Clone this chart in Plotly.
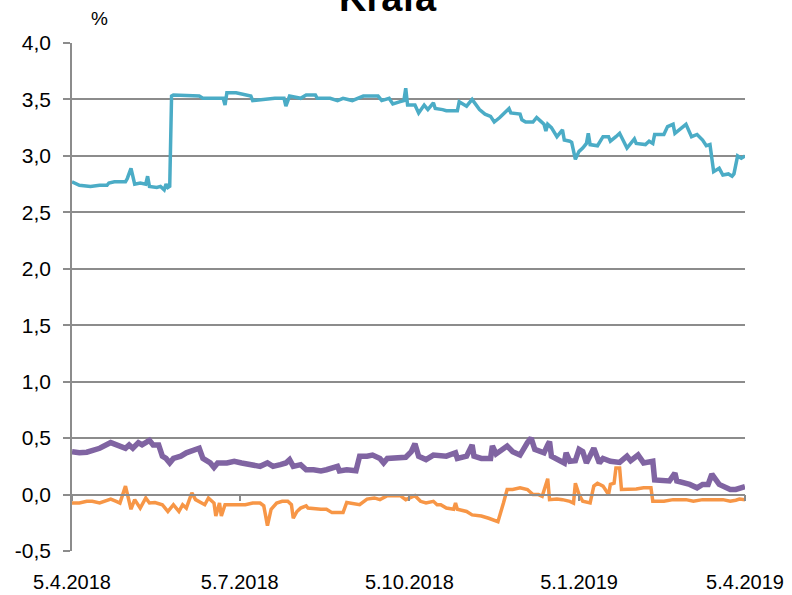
import plotly.graph_objects as go

title_text = "Krafa"
unit_label = "%"
tick_dates = ["2018-04-05", "2018-07-05", "2018-10-05", "2019-01-05", "2019-04-05"]
tick_labels = ["5.4.2018", "5.7.2018", "5.10.2018", "5.1.2019", "5.4.2019"]
y_ticks = [-0.5, 0.0, 0.5, 1.0, 1.5, 2.0, 2.5, 3.0, 3.5, 4.0]
y_tick_labels = ["-0,5", "0,0", "0,5", "1,0", "1,5", "2,0", "2,5", "3,0", "3,5", "4,0"]

teal_dates = [
    "2018-04-05", "2018-04-09", "2018-04-15", "2018-04-20", "2018-04-24", "2018-04-25", "2018-04-28",
    "2018-05-04", "2018-05-05", "2018-05-07", "2018-05-09", "2018-05-12", "2018-05-15", "2018-05-16",
    "2018-05-17", "2018-05-21", "2018-05-23", "2018-05-25", "2018-05-26", "2018-05-27", "2018-05-28",
    "2018-05-29", "2018-05-30", "2018-06-13", "2018-06-15", "2018-06-26", "2018-06-27", "2018-06-28",
    "2018-07-03", "2018-07-08", "2018-07-11", "2018-07-12", "2018-07-18", "2018-07-24", "2018-07-29",
    "2018-07-30", "2018-08-01", "2018-08-07", "2018-08-10", "2018-08-15", "2018-08-16", "2018-08-23",
    "2018-08-27", "2018-08-30", "2018-09-04", "2018-09-10", "2018-09-18", "2018-09-20", "2018-09-24",
    "2018-09-26", "2018-09-30", "2018-10-02", "2018-10-03", "2018-10-04", "2018-10-08", "2018-10-10",
    "2018-10-13", "2018-10-15", "2018-10-18", "2018-10-19", "2018-10-23", "2018-10-25", "2018-10-31",
    "2018-11-01", "2018-11-05", "2018-11-08", "2018-11-12", "2018-11-15", "2018-11-18", "2018-11-20",
    "2018-11-23", "2018-11-28", "2018-11-29", "2018-12-04", "2018-12-05", "2018-12-07", "2018-12-11",
    "2018-12-13", "2018-12-15", "2018-12-17", "2018-12-18", "2018-12-19", "2018-12-21", "2018-12-24",
    "2018-12-27", "2018-12-28", "2018-12-31", "2019-01-01", "2019-01-03", "2019-01-05", "2019-01-07",
    "2019-01-09", "2019-01-10", "2019-01-11", "2019-01-15", "2019-01-18", "2019-01-21", "2019-01-22",
    "2019-01-25", "2019-01-27", "2019-01-31", "2019-02-04", "2019-02-05", "2019-02-10", "2019-02-12",
    "2019-02-14", "2019-02-15", "2019-02-20", "2019-02-22", "2019-02-25", "2019-02-26", "2019-03-04",
    "2019-03-07", "2019-03-10", "2019-03-13", "2019-03-15", "2019-03-17", "2019-03-19", "2019-03-22",
    "2019-03-24", "2019-03-27", "2019-03-29", "2019-03-30", "2019-04-01", "2019-04-03", "2019-04-05",
]
teal_values = [
    2.77, 2.74, 2.73, 2.74, 2.74, 2.76, 2.77,
    2.77, 2.80, 2.89, 2.75, 2.76, 2.75, 2.82,
    2.73, 2.72, 2.73, 2.70, 2.75, 2.72, 2.73,
    3.53, 3.54, 3.53, 3.51, 3.51, 3.45, 3.56,
    3.56, 3.54, 3.53, 3.49, 3.50, 3.51, 3.51,
    3.44, 3.53, 3.51, 3.54, 3.54, 3.51, 3.51,
    3.49, 3.51, 3.49, 3.53, 3.53, 3.49, 3.51,
    3.46, 3.48, 3.49, 3.60, 3.45, 3.45, 3.38,
    3.45, 3.41, 3.47, 3.42, 3.41, 3.40, 3.40,
    3.48, 3.44, 3.50, 3.41, 3.37, 3.35, 3.30,
    3.34, 3.42, 3.38, 3.37, 3.32, 3.30, 3.30,
    3.34, 3.31, 3.28, 3.22, 3.28, 3.25, 3.17,
    3.23, 3.14, 3.13, 3.12, 2.97, 3.04, 3.07,
    3.11, 3.20, 3.10, 3.09, 3.17, 3.17, 3.13,
    3.17, 3.20, 3.07, 3.15, 3.11, 3.10, 3.13,
    3.11, 3.19, 3.19, 3.26, 3.28, 3.20, 3.28,
    3.17, 3.19, 3.14, 3.09, 3.10, 2.86, 2.89,
    2.83, 2.84, 2.82, 2.84, 3.00, 2.98, 3.00,
]

purple_dates = [
    "2018-04-05", "2018-04-09", "2018-04-13", "2018-04-16", "2018-04-20", "2018-04-26", "2018-04-30",
    "2018-05-04", "2018-05-06", "2018-05-08", "2018-05-11", "2018-05-13", "2018-05-17", "2018-05-19",
    "2018-05-22", "2018-05-24", "2018-05-26", "2018-05-28", "2018-05-30", "2018-06-03", "2018-06-06",
    "2018-06-10", "2018-06-13", "2018-06-15", "2018-06-19", "2018-06-21", "2018-06-23", "2018-06-28",
    "2018-07-02", "2018-07-06", "2018-07-12", "2018-07-16", "2018-07-20", "2018-07-23", "2018-07-27",
    "2018-07-30", "2018-08-01", "2018-08-03", "2018-08-07", "2018-08-10", "2018-08-14", "2018-08-18",
    "2018-08-21", "2018-08-27", "2018-08-28", "2018-09-01", "2018-09-06", "2018-09-08", "2018-09-12",
    "2018-09-15", "2018-09-19", "2018-09-21", "2018-09-23", "2018-09-30", "2018-10-03", "2018-10-06",
    "2018-10-08", "2018-10-10", "2018-10-14", "2018-10-18", "2018-10-25", "2018-10-30", "2018-10-31",
    "2018-11-05", "2018-11-08", "2018-11-09", "2018-11-13", "2018-11-18", "2018-11-19", "2018-11-21",
    "2018-11-23", "2018-11-27", "2018-11-30", "2018-12-04", "2018-12-08", "2018-12-10", "2018-12-12",
    "2018-12-15", "2018-12-17", "2018-12-19", "2018-12-20", "2018-12-21", "2018-12-24", "2018-12-28",
    "2018-12-29", "2018-12-31", "2019-01-03", "2019-01-05", "2019-01-07", "2019-01-09", "2019-01-13",
    "2019-01-16", "2019-01-18", "2019-01-22", "2019-01-27", "2019-01-31", "2019-02-02", "2019-02-06",
    "2019-02-09", "2019-02-12", "2019-02-14", "2019-02-15", "2019-02-20", "2019-02-23", "2019-02-26",
    "2019-02-27", "2019-03-06", "2019-03-10", "2019-03-13", "2019-03-16", "2019-03-18", "2019-03-20",
    "2019-03-22", "2019-03-28", "2019-03-31", "2019-04-05",
]
purple_values = [
    0.38, 0.37, 0.375, 0.39, 0.41, 0.46, 0.44,
    0.41, 0.44, 0.41, 0.46, 0.44, 0.48, 0.44,
    0.44, 0.34, 0.32, 0.28, 0.32, 0.34, 0.37,
    0.40, 0.41, 0.32, 0.28, 0.24, 0.28, 0.28,
    0.295, 0.28, 0.265, 0.25, 0.28, 0.25, 0.265,
    0.28, 0.31, 0.25, 0.265, 0.22, 0.22, 0.21,
    0.22, 0.25, 0.21, 0.22, 0.21, 0.34, 0.34,
    0.35, 0.32, 0.28, 0.32, 0.32, 0.33, 0.38,
    0.45, 0.34, 0.31, 0.35, 0.34, 0.37, 0.32,
    0.34, 0.44, 0.34, 0.32, 0.32, 0.43, 0.36,
    0.38, 0.43, 0.38, 0.35, 0.46, 0.50, 0.40,
    0.38, 0.37, 0.44, 0.47, 0.34, 0.31, 0.28,
    0.37, 0.295, 0.30, 0.40, 0.38, 0.28, 0.41,
    0.28, 0.32, 0.295, 0.285, 0.34, 0.30, 0.35,
    0.28, 0.295, 0.295, 0.13, 0.13, 0.12, 0.19,
    0.12, 0.09, 0.06, 0.09, 0.09, 0.18, 0.13,
    0.09, 0.045, 0.045, 0.07,
]

orange_dates = [
    "2018-04-05", "2018-04-09", "2018-04-13", "2018-04-16", "2018-04-20", "2018-04-26", "2018-04-29",
    "2018-05-01", "2018-05-04", "2018-05-06", "2018-05-07", "2018-05-09", "2018-05-12", "2018-05-15",
    "2018-05-17", "2018-05-20", "2018-05-24", "2018-05-27", "2018-05-30", "2018-06-02", "2018-06-04",
    "2018-06-06", "2018-06-09", "2018-06-11", "2018-06-13", "2018-06-16", "2018-06-18", "2018-06-21",
    "2018-06-22", "2018-06-24", "2018-06-25", "2018-06-27", "2018-07-02", "2018-07-08", "2018-07-12",
    "2018-07-16", "2018-07-18", "2018-07-20", "2018-07-22", "2018-07-25", "2018-07-28", "2018-07-31",
    "2018-08-02", "2018-08-03", "2018-08-05", "2018-08-07", "2018-08-10", "2018-08-11", "2018-08-18",
    "2018-08-21", "2018-08-24", "2018-08-30", "2018-09-01", "2018-09-08", "2018-09-12", "2018-09-16",
    "2018-09-19", "2018-09-23", "2018-09-26", "2018-09-30", "2018-10-03", "2018-10-08", "2018-10-11",
    "2018-10-14", "2018-10-18", "2018-10-20", "2018-10-22", "2018-10-25", "2018-10-29", "2018-10-30",
    "2018-10-31", "2018-11-05", "2018-11-08", "2018-11-13", "2018-11-17", "2018-11-22", "2018-11-25",
    "2018-11-27", "2018-11-30", "2018-12-04", "2018-12-08", "2018-12-11", "2018-12-14", "2018-12-16",
    "2018-12-19", "2018-12-20", "2018-12-24", "2018-12-27", "2018-12-31", "2019-01-02", "2019-01-03",
    "2019-01-05", "2019-01-07", "2019-01-11", "2019-01-13", "2019-01-15", "2019-01-18", "2019-01-21",
    "2019-01-22", "2019-01-24", "2019-01-25", "2019-01-27", "2019-01-28", "2019-02-02", "2019-02-05",
    "2019-02-09", "2019-02-13", "2019-02-14", "2019-02-20", "2019-02-25", "2019-03-04", "2019-03-08",
    "2019-03-13", "2019-03-24", "2019-03-28", "2019-03-31", "2019-04-02", "2019-04-05",
]
orange_values = [
    -0.075, -0.075, -0.06, -0.06, -0.075, -0.04, -0.06,
    -0.075, 0.075, -0.06, -0.13, -0.045, -0.12, -0.03,
    -0.075, -0.07, -0.09, -0.15, -0.09, -0.15, -0.09,
    -0.12, 0.015, -0.045, -0.06, -0.09, -0.03, -0.075,
    -0.19, -0.075, -0.19, -0.09, -0.09, -0.09, -0.075,
    -0.075, -0.10, -0.275, -0.13, -0.075, -0.06, -0.06,
    -0.09, -0.21, -0.15, -0.12, -0.10, -0.12, -0.13,
    -0.13, -0.16, -0.16, -0.07, -0.09, -0.04, -0.03,
    -0.045, -0.01, -0.01, -0.01, -0.045, -0.01, -0.06,
    -0.075, -0.06, -0.09, -0.09, -0.12, -0.13, -0.075,
    -0.13, -0.15, -0.18, -0.19, -0.21, -0.24, -0.075,
    0.045, 0.045, 0.06, 0.045, 0.0, 0.0, -0.015,
    0.14, -0.045, -0.04, -0.045, -0.06, -0.075, 0.10,
    0.0, -0.06, -0.075, 0.075, 0.10, 0.075, 0.0,
    0.09, 0.10, 0.235, 0.235, 0.045, 0.045, 0.05,
    0.06, 0.06, -0.06, -0.06, -0.045, -0.045, -0.06,
    -0.045, -0.045, -0.06, -0.05, -0.04, -0.045,
]

TEAL = "#4bacc6"
PURPLE = "#8064a2"
ORANGE = "#f79646"
GRID = "#8c8c8c"
FONT = "Liberation Sans, Arial, sans-serif"

fig = go.Figure()
fig.add_trace(go.Scatter(x=purple_dates, y=purple_values, mode="lines",
                         line=dict(color=PURPLE, width=5.5), showlegend=False))
fig.add_trace(go.Scatter(x=orange_dates, y=orange_values, mode="lines",
                         line=dict(color=ORANGE, width=3.5), showlegend=False))
fig.add_trace(go.Scatter(x=teal_dates, y=teal_values, mode="lines",
                         line=dict(color=TEAL, width=3.5), showlegend=False))
# invisible trace on overlay axis (tick marks on the zero line)
fig.add_trace(go.Scatter(x=[tick_dates[0], tick_dates[-1]], y=[0, 0], mode="lines",
                         line=dict(width=0), xaxis="x2", hoverinfo="skip", showlegend=False))

fig.update_layout(
    width=792, height=595,
    margin=dict(l=72, r=47, t=43, b=44, autoexpand=False),
    paper_bgcolor="white", plot_bgcolor="white",
    font=dict(family=FONT, size=20, color="black"),
    xaxis=dict(type="date", range=[tick_dates[0], tick_dates[-1]],
               tickvals=tick_dates, ticktext=tick_labels, automargin=False,
               showgrid=False, zeroline=False, showline=False,
               ticks="outside", ticklen=8, tickcolor="rgba(0,0,0,0)",
               ticklabelstandoff=5,
               tickfont=dict(family=FONT, size=20, color="black")),
    xaxis2=dict(type="date", range=[tick_dates[0], tick_dates[-1]], overlaying="x",
                anchor="free", position=(0 - y_ticks[0]) / (y_ticks[-1] - y_ticks[0]),
                tickvals=tick_dates, showticklabels=False, showgrid=False, zeroline=False,
                automargin=False,
                showline=True, linecolor=GRID, linewidth=1.5,
                ticks="outside", ticklen=6, tickwidth=1.5, tickcolor=GRID),
    yaxis=dict(range=[y_ticks[0], y_ticks[-1]], tickvals=y_ticks, ticktext=y_tick_labels,
               automargin=False,
               showgrid=True, gridcolor=GRID, gridwidth=1.5, zeroline=False,
               showline=True, linecolor=GRID, linewidth=1.5,
               ticks="outside", ticklen=7, tickwidth=1.5, tickcolor=GRID,
               ticklabelstandoff=8,
               tickfont=dict(family=FONT, size=21, color="black")),
    annotations=[
        dict(text=unit_label, xref="paper", yref="paper", x=0.0416, y=1.049,
             showarrow=False, xanchor="center", yanchor="middle",
             font=dict(family=FONT, size=19, color="black")),
        dict(text="<b>" + title_text + "</b>", xref="paper", yref="paper", x=0.4695, y=1.089,
             showarrow=False, xanchor="center", yanchor="middle",
             font=dict(family=FONT, size=38, color="black")),
    ],
)

fig.write_html("out.html", config={"displayModeBar": False},
               post_script="document.body.style.margin='0';document.body.style.overflow='hidden';")
